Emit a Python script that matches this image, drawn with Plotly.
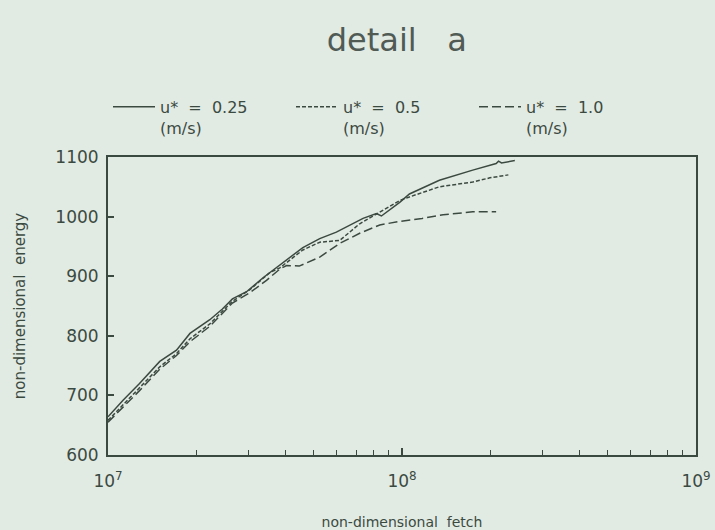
import plotly.graph_objects as go

# Non-dimensional fetch / energy growth curves for three friction velocities
fetch_025 = [1.00e7, 1.125e7, 1.28e7, 1.50e7, 1.71e7, 1.90e7, 2.22e7, 2.45e7, 2.65e7,
             2.96e7, 3.36e7, 3.55e7, 3.84e7, 4.15e7, 4.60e7, 5.25e7, 5.98e7, 7.37e7,
             8.18e7, 8.51e7, 9.82e7, 1.06e8, 1.34e8, 1.74e8, 1.99e8, 2.09e8, 2.13e8,
             2.18e8, 2.42e8]
energy_025 = [664, 692, 720, 757, 776, 804, 827, 845, 862,
              874, 897, 906, 920, 932, 948, 963, 974, 997,
              1005, 1001, 1024, 1038, 1061, 1078, 1086, 1089, 1093,
              1090, 1094]

fetch_05 = [1.00e7, 1.125e7, 1.28e7, 1.50e7, 1.71e7, 1.90e7, 2.22e7, 2.65e7, 3.03e7,
            3.55e7, 3.84e7, 4.60e7, 5.25e7, 6.14e7, 7.18e7, 8.40e7, 9.82e7, 1.06e8,
            1.34e8, 1.74e8, 1.99e8, 2.30e8]
energy_05 = [658, 684, 712, 748, 770, 795, 820, 858, 877,
             906, 914, 944, 957, 960, 988, 1007, 1027, 1033,
             1050, 1058, 1065, 1070]

fetch_10 = [1.00e7, 1.125e7, 1.28e7, 1.50e7, 1.71e7, 1.90e7, 2.22e7, 2.65e7, 3.03e7,
            3.46e7, 3.84e7, 4.05e7, 4.47e7, 5.25e7, 6.14e7, 7.18e7, 8.40e7, 9.82e7,
            1.17e8, 1.38e8, 1.74e8, 2.09e8]
energy_10 = [655, 680, 708, 744, 767, 790, 816, 855, 872,
             893, 912, 918, 917, 932, 955, 972, 986, 992,
             997, 1003, 1008, 1008]

NB = "\u00a0"
series_names = [f"u*{NB}{NB}={NB}{NB}0.25<br>(m/s)",
                f"u*{NB}{NB}={NB}{NB}0.5<br>(m/s)",
                f"u*{NB}{NB}={NB}{NB}1.0<br>(m/s)"]
x_tick_vals = [1e7, 1e8, 1e9]
x_tick_text = ["10<sup>7</sup>", "10<sup>8</sup>", "10<sup>9</sup>"]
x_minor_vals = [m * 10 ** e for e in (7, 8) for m in range(2, 10)]
y_tick_vals = [600, 700, 800, 900, 1000, 1100]

ink = "#3b4a41"
bg = "#e2eae4"
font_family = "DejaVu Sans, Verdana, sans-serif"

fig = go.Figure()
styles = ["solid", "4px,2px", "9px,4px"]
for xs, ys, name, dash in zip([fetch_025, fetch_05, fetch_10],
                              [energy_025, energy_05, energy_10],
                              series_names, styles):
    fig.add_trace(go.Scatter(x=xs, y=ys, mode="lines", name=name,
                             line=dict(color=ink, width=1.5, dash=dash)))

fig.update_layout(
    width=715, height=530,
    margin=dict(l=108, r=19, t=157, b=75),
    paper_bgcolor=bg, plot_bgcolor=bg,
    font=dict(family=font_family, color=ink),
    title=dict(text=f"detail{NB}{NB}{NB}a", x=0.555, xanchor="center", y=1 - 40 / 530,
               yref="container", yanchor="middle",
               font=dict(size=32, color="#4f5b54", family=font_family)),
    showlegend=True,
    legend=dict(orientation="h", x=0.0, xanchor="left", y=1.225, yanchor="top",
                bgcolor="rgba(0,0,0,0)", font=dict(size=16, color=ink),
                itemwidth=42, valign="top", entrywidth=126, traceorder="normal"),
)

fig.update_xaxes(
    type="log", range=[7, 9], automargin=False,
    tickvals=x_tick_vals, ticktext=x_tick_text,
    ticks="inside", ticklen=7, tickwidth=1.5, tickcolor=ink,
    minor=dict(tickvals=x_minor_vals, ticks="inside", ticklen=5, tickwidth=1.2, tickcolor=ink),
    showline=True, linecolor=ink, linewidth=2, mirror=True,
    showgrid=False, zeroline=False,
    tickfont=dict(size=17, color=ink), ticklabelstandoff=10,
    title=dict(text=f"non-dimensional{NB}{NB}fetch", standoff=30,
               font=dict(size=14, color=ink)),
)
fig.update_yaxes(
    range=[600, 1100], tickvals=y_tick_vals, automargin=False,
    ticks="inside", ticklen=6, tickwidth=1.5, tickcolor=ink,
    showline=True, linecolor=ink, linewidth=2, mirror=True,
    showgrid=False, zeroline=False,
    tickfont=dict(size=17, color=ink), ticklabelstandoff=4,
    title=dict(text=f"non-dimensional{NB}{NB}energy", standoff=26,
               font=dict(size=15, color=ink)),
)

fig.write_html("out.html")
